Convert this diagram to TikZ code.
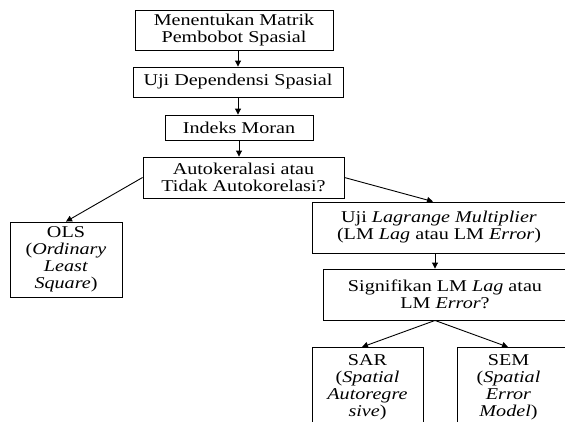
\documentclass[tikz,border=0pt]{standalone}
\usepackage{fontspec}
\setmainfont{Liberation Serif}[FakeStretch=1.22]
\usetikzlibrary{arrows.meta}
\begin{document}
\begin{tikzpicture}[x=1pt,y=-1pt,
  box/.style={draw, line width=0.9pt, inner sep=0pt, align=center,
    font=\fontsize{16.5}{17}\selectfont},
  txt/.style={inner sep=0pt, align=center, font=\fontsize{16.5}{17}\selectfont},
  arr/.style={draw, line width=0.9pt, -{Triangle[length=6pt,width=6pt]}}]
\useasboundingbox (0,0) rectangle (565,421);
\clip (0,0) rectangle (565,421);
\node[box, minimum width=198pt, minimum height=40pt] (b1) at (234,30) {Menentukan Matrik\\Pembobot Spasial};
\node[box, minimum width=210pt, minimum height=30pt] (b2) at (238,82) {Uji Dependensi Spasial};
\node[box, minimum width=148pt, minimum height=25pt] (b3) at (239,127.5) {Indeks Moran};
\node[box, minimum width=201pt, minimum height=41pt] (b4) at (243.5,177.5) {Autokeralasi atau\\Tidak Autokorelasi?};
\node[box, minimum width=112pt, minimum height=75pt] (ols) at (66,259.5) {OLS\\(\textit{Ordinary}\\\textit{Least}\\\textit{Square})};
\node[box, minimum width=254pt, minimum height=51pt] (uji) at (439,227.5) {Uji \textit{Lagrange Multiplier}\\(LM \textit{Lag} atau LM \textit{Error})};
\node[box, minimum width=244pt, minimum height=51pt] (sig) at (445,294.5) {Signifikan LM \textit{Lag} atau\\LM \textit{Error}?};
\node[box, minimum width=111pt, minimum height=93pt, anchor=north] (sar) at (367.5,347) {};
\node[txt, anchor=north] (sartxt) at ([yshift=-7pt]sar.north) {SAR\\(\textit{Spatial}\\\textit{Autoregre}\\\textit{sive})};
\node[box, minimum width=109pt, minimum height=93pt, anchor=north] (sem) at (511.5,347) {};
\node[txt, anchor=north] (semtxt) at ([xshift=-3pt,yshift=-7pt]sem.north) {SEM\\(\textit{Spatial}\\\textit{Error}\\\textit{Model})};
\draw[arr] (b1.south -| b2.north) -- (b2.north);
\draw[arr] (b2.south) -- (b2.south |- b3.north);
\draw[arr] (b3.south) -- (b3.south |- b4.north);
\draw[arr] (b4.west) -- (ols.north);
\draw[arr] (b4.east) -- ([xshift=-6pt]uji.north);
\draw[arr] ([xshift=-4pt]uji.south) -- ([xshift=-10pt]sig.north);
\draw[arr] ([xshift=-10pt]sig.south) -- ([xshift=-5.5pt]sar.north);
\draw[arr] ([xshift=-10pt]sig.south) -- ([xshift=-3.5pt]sem.north);
\end{tikzpicture}
\end{document}
